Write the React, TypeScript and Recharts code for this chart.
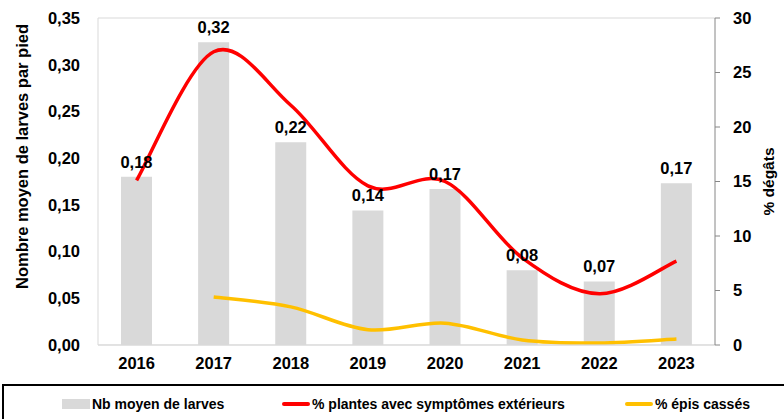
import { Bar, ComposedChart, CartesianGrid, LabelList, Legend, Line, XAxis, YAxis } from "recharts";

const years = ["2016", "2017", "2018", "2019", "2020", "2021", "2022", "2023"];
const larves = [0.18, 0.324, 0.217, 0.144, 0.167, 0.08, 0.068, 0.173];
const symptomes = [15.1, 26.9, 22.0, 14.6, 15.0, 8.0, 4.7, 7.7];
const epis: (number | null)[] = [null, 4.4, 3.5, 1.4, 2.0, 0.46, 0.18, 0.55];
const leftTicks = [0, 0.05, 0.1, 0.15, 0.2, 0.25, 0.3, 0.35];
const rightTicks = [0, 5, 10, 15, 20, 25, 30];

const data = years.map((year, i) => ({
  year,
  larves: larves[i],
  symptomes: symptomes[i],
  epis: epis[i],
}));

const FONT = "'Liberation Sans', Arial, sans-serif";
const comma = (v: number) => v.toFixed(2).replace(".", ",");

// Excel-like smoothed line (Catmull-Rom through the points)
const excelSmooth: any = (context: any) => {
  let pts: [number, number][] = [];
  return {
    areaStart() {},
    areaEnd() {},
    lineStart() {
      pts = [];
    },
    lineEnd() {
      const n = pts.length;
      if (!n) return;
      context.moveTo(pts[0][0], pts[0][1]);
      for (let i = 0; i < n - 1; i++) {
        const p0 = pts[i - 1] || pts[i];
        const p1 = pts[i];
        const p2 = pts[i + 1];
        const p3 = pts[i + 2] || p2;
        context.bezierCurveTo(
          p1[0] + (p2[0] - p0[0]) / 6,
          p1[1] + (p2[1] - p0[1]) / 6,
          p2[0] - (p3[0] - p1[0]) / 6,
          p2[1] - (p3[1] - p1[1]) / 6,
          p2[0],
          p2[1]
        );
      }
    },
    point(x: number, y: number) {
      pts.push([+x, +y]);
    },
  };
};

function LegendBox() {
  const item = { display: "flex", alignItems: "center", position: "absolute" as const, top: 10 };
  return (
    <div
      style={{
        boxSizing: "border-box",
        width: 800,
        height: 35,
        borderTop: "2px solid #000",
        borderLeft: "2px solid #000",
        position: "relative",
        fontFamily: FONT,
        fontWeight: "bold",
        fontSize: 14,
        color: "#000",
      }}
    >
      <div style={{ ...item, left: 58 }}>
        <span style={{ width: 28, height: 10, background: "#d9d9d9", marginRight: 2 }} />
        Nb moyen de larves
      </div>
      <div style={{ ...item, left: 278 }}>
        <span style={{ width: 28, height: 4, borderRadius: 2, background: "#ff0000", marginRight: 2 }} />
        % plantes avec symptômes extérieurs
      </div>
      <div style={{ ...item, left: 621 }}>
        <span style={{ width: 28, height: 4, borderRadius: 2, background: "#ffc000", marginRight: 2 }} />
        % épis cassés
      </div>
    </div>
  );
}

export default function App() {
  return (
    <div style={{ position: "absolute", left: 0, top: 0, width: 784, height: 419, overflow: "hidden", background: "#fff" }}>
      <ComposedChart
        width={784}
        height={419}
        data={data}
        margin={{ top: 18, right: 0, bottom: 9, left: 0 }}
        barSize={31}
      >
        <CartesianGrid vertical={false} stroke="#d9d9d9" strokeWidth={1} />
        <XAxis
          dataKey="year"
          tickLine={false}
          axisLine={{ stroke: "#d9d9d9" }}
          tickSize={0}
          tickMargin={12}
          height={30}
          tick={{ fill: "#000", fontSize: 16.5, fontWeight: "bold", fontFamily: FONT }}
        />
        <YAxis
          yAxisId="left"
          domain={[0, 0.35]}
          ticks={leftTicks}
          interval={0}
          width={98}
          tickLine={false}
          tickSize={0}
          tickMargin={18}
          axisLine={{ stroke: "#d9d9d9" }}
          tickFormatter={comma}
          tick={{ fill: "#000", fontSize: 16.5, fontWeight: "bold", fontFamily: FONT }}
          label={(props: any) => {
            const vb = props.viewBox;
            const cx = 22;
            const cy = vb.y + vb.height / 2 - 25;
            return (
              <text
                x={cx}
                y={cy}
                transform={`rotate(-90 ${cx} ${cy})`}
                textAnchor="middle"
                dominantBaseline="central"
                fontFamily={FONT}
                fontWeight="bold"
                fontSize={16.5}
                fill="#000"
              >
                Nombre moyen de larves par pied
              </text>
            );
          }}
        />
        <YAxis
          yAxisId="right"
          orientation="right"
          domain={[0, 30]}
          ticks={rightTicks}
          interval={0}
          width={69}
          tickSize={5}
          tickMargin={13}
          tickLine={{ stroke: "#868686" }}
          axisLine={{ stroke: "#868686" }}
          tick={{ fill: "#000", fontSize: 16.5, fontWeight: "bold", fontFamily: FONT, textAnchor: "start" }}
          label={(props: any) => {
            const vb = props.viewBox;
            const cx = 768;
            const cy = vb.y + vb.height / 2;
            return (
              <text
                x={cx}
                y={cy}
                transform={`rotate(-90 ${cx} ${cy})`}
                textAnchor="middle"
                dominantBaseline="central"
                fontFamily={FONT}
                fontWeight="bold"
                fontSize={15.5}
                fill="#000"
              >
                % dégâts
              </text>
            );
          }}
        />
        <Bar yAxisId="left" dataKey="larves" fill="#d9d9d9" isAnimationActive={false} name="Nb moyen de larves">
          <LabelList
            dataKey="larves"
            position="top"
            offset={9}
            formatter={(v: any) => comma(Number(v))}
            style={{ fill: "#000", fontSize: 16.5, fontWeight: "bold", fontFamily: FONT }}
          />
        </Bar>
        <Line
          yAxisId="right"
          dataKey="symptomes"
          type={excelSmooth}
          stroke="#ff0000"
          strokeWidth={3.5}
          dot={false}
          isAnimationActive={false}
          name="% plantes avec symptômes extérieurs"
        />
        <Line
          yAxisId="right"
          dataKey="epis"
          type={excelSmooth}
          stroke="#ffc000"
          strokeWidth={3.5}
          dot={false}
          isAnimationActive={false}
          name="% épis cassés"
        />
        <Legend
          verticalAlign="bottom"
          content={() => <LegendBox />}
          wrapperStyle={{ left: 2, top: 384, width: 800, height: 35 }}
        />
      </ComposedChart>
    </div>
  );
}
